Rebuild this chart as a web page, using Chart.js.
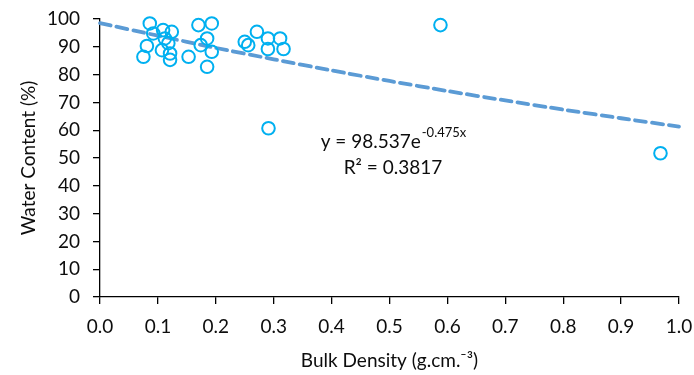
<!DOCTYPE html>
<html>
<head>
<meta charset="utf-8">
<script src="https://cdn.jsdelivr.net/npm/chart.js@4"></script>
<style>
  html, body { margin: 0; padding: 0; background: #fff; }
  #wrap { width: 694px; height: 375px; }
</style>
</head>
<body>
<div id="wrap"><canvas id="waterChart" width="694" height="375"></canvas></div>
<script>
// Bulk density vs water content samples
const bulkDensity = [0.086, 0.109, 0.124, 0.092, 0.112, 0.118, 0.081, 0.107, 0.075, 0.121,
    0.121, 0.153, 0.170, 0.193, 0.185, 0.174, 0.193, 0.185, 0.250, 0.256,
    0.271, 0.290, 0.311, 0.290, 0.317, 0.291, 0.588, 0.968];
const waterContent = [98.4, 96.0, 95.4, 94.8, 93.0, 91.3, 90.3, 88.8, 86.4, 87.6,
    85.3, 86.4, 97.8, 98.4, 93.0, 90.6, 88.2, 82.8, 91.8, 90.6,
    95.4, 93.0, 93.0, 89.2, 89.2, 60.7, 97.8, 51.7];

// exponential trendline
const trendX = [0.0, 0.1, 0.2, 0.3, 0.4, 0.5, 0.6, 0.7, 0.8, 0.9, 1.0];
const trendY = [98.5, 94.0, 89.6, 85.5, 81.5, 77.7, 74.1, 70.7, 67.4, 64.3, 61.3];

const xTicks = [0, 0.1, 0.2, 0.3, 0.4, 0.5, 0.6, 0.7, 0.8, 0.9, 1.0];
const yTicks = [0, 10, 20, 30, 40, 50, 60, 70, 80, 90, 100];

const eqMain = 'y = 98.537e';
const eqExp = '-0.475x';
const eqR2 = 'R\u00B2 = 0.3817';

const FONT = 'Lato';
const TEXT = '#0d0d0d';

// draws the trendline equation text
const equationLabel = {
    id: 'equationLabel',
    afterDatasetsDraw(chart) {
        const ctx = chart.ctx;
        const xs = chart.scales.x, ys = chart.scales.y;
        const cx = xs.getPixelForValue(0.506);
        ctx.save();
        ctx.fillStyle = TEXT;
        ctx.textBaseline = 'alphabetic';

        ctx.font = '19px ' + FONT;
        const wMain = ctx.measureText(eqMain).width;
        ctx.font = '13px ' + FONT;
        const wExp = ctx.measureText(eqExp).width;
        const left = cx - (wMain + wExp) / 2;
        const base1 = ys.getPixelForValue(53.5);
        ctx.font = '19px ' + FONT;
        ctx.fillText(eqMain, left, base1);
        ctx.font = '13px ' + FONT;
        ctx.fillText(eqExp, left + wMain + 1, base1 - 11);

        ctx.font = '19px ' + FONT;
        ctx.textAlign = 'center';
        ctx.fillText(eqR2, cx, ys.getPixelForValue(44.2));
        ctx.restore();
    }
};

const points = bulkDensity.map((x, i) => ({ x: x, y: waterContent[i] }));
const trend = trendX.map((x, i) => ({ x: x, y: trendY[i] }));

new Chart(document.getElementById('waterChart'), {
    type: 'scatter',
    data: {
        datasets: [{
            label: 'Samples',
            data: points,
            pointStyle: 'circle',
            pointRadius: 6.3,
            pointBorderWidth: 2,
            pointBorderColor: '#00B0F0',
            pointBackgroundColor: 'rgba(0,0,0,0)',
            showLine: false,
            clip: false,
            order: 1
        }, {
            label: 'Trend',
            data: trend,
            showLine: true,
            pointRadius: 0,
            borderColor: '#5B9BD5',
            borderWidth: 3.8,
            borderDash: [11, 6],
            borderCapStyle: 'round',
            tension: 0.2,
            clip: false,
            order: 2
        }]
    },
    plugins: [equationLabel],
    options: {
        responsive: false,
        animation: false,
        layout: { padding: { top: 19, right: 15, left: 0, bottom: 0 } },
        plugins: {
            legend: { display: false },
            tooltip: { enabled: false }
        },
        scales: {
            x: {
                type: 'linear',
                min: 0,
                max: 1,
                afterFit(scale) {
                    scale.height = 78;
                    scale.paddingLeft = 0;
                    scale.paddingRight = 0;
                },
                afterBuildTicks(scale) { scale.ticks = xTicks.map(v => ({ value: v })); },
                border: { display: true, color: '#000', width: 1.3 },
                grid: { display: true, drawOnChartArea: false, drawTicks: true, tickLength: 7, color: '#000', lineWidth: 1.3 },
                ticks: {
                    color: TEXT,
                    font: { family: FONT, size: 19 },
                    padding: 11,
                    maxRotation: 0,
                    callback: v => v.toFixed(1)
                },
                title: {
                    display: true,
                    text: 'Bulk Density (g.cm.\u207B\u00B3)',
                    color: TEXT,
                    font: { family: FONT, size: 19 },
                    padding: { top: 4, bottom: 3 }
                }
            },
            y: {
                type: 'linear',
                min: 0,
                max: 100,
                afterFit(scale) {
                    scale.width = 100;
                    scale.paddingTop = 0;
                    scale.paddingBottom = 0;
                },
                afterBuildTicks(scale) { scale.ticks = yTicks.map(v => ({ value: v })); },
                border: { display: true, color: '#000', width: 1.3 },
                grid: { display: true, drawOnChartArea: false, drawTicks: true, tickLength: 7, color: '#000', lineWidth: 1.3 },
                ticks: {
                    color: TEXT,
                    font: { family: FONT, size: 19 },
                    padding: 13
                },
                title: {
                    display: true,
                    text: 'Water Content (%)',
                    color: TEXT,
                    font: { family: FONT, size: 19 },
                    padding: { top: 17, bottom: 0 }
                }
            }
        }
    }
});
</script>
</body>
</html>
